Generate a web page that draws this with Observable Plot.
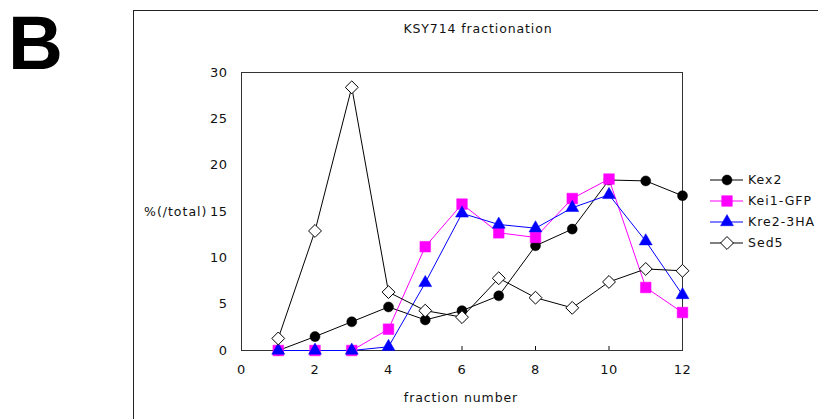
<!DOCTYPE html>
<html><head><meta charset="utf-8">
<script src="https://cdn.jsdelivr.net/npm/d3@7"></script>
<script src="https://cdn.jsdelivr.net/npm/@observablehq/plot@0.6"></script>
<style>
body{margin:0;background:#fff;}
#wrap{position:relative;width:818px;height:419px;overflow:hidden;background:#fff;font-family:"DejaVu Sans",sans-serif;color:#111;}
#wrap svg{position:absolute;left:0;top:0;}
.abs{position:absolute;white-space:nowrap;}
</style></head><body>
<div id="wrap"></div>
<script>
const fractions = [1,2,3,4,5,6,7,8,9,10,11,12];
const kex2    = [0,1.5,3.1,4.7,3.3,4.3,5.9,11.3,13.1,18.4,18.3,16.7];
const kei1GFP = [0,0,0,2.3,11.2,15.8,12.7,12.2,16.4,18.5,6.8,4.1];
const kre23HA = [0,0,0,0.4,7.3,14.8,13.6,13.2,15.4,16.8,11.8,6.0];
const sed5    = [1.3,12.9,28.4,6.3,4.3,3.6,7.8,5.7,4.6,7.4,8.8,8.6];
const seriesNames = ["Kex2","Kei1-GFP","Kre2-3HA","Sed5"];
const xTicks = [0,2,4,6,8,10,12];
const yTicks = [0,5,10,15,20,25,30];

const styles = {
  "Kex2":     {stroke:"#000", fill:"#000", symbol:"circle", r:5},
  "Kei1-GFP": {stroke:"#ff00ff", fill:"#ff00ff", symbol:"square", r:6},
  "Kre2-3HA": {stroke:"#0000ff", fill:"#0000ff", symbol:"triangle", r:4.8},
  "Sed5":     {stroke:"#000", fill:"#fff", symbol:"diamond2", r:5.8}
};
const valuesBy = {"Kex2":kex2,"Kei1-GFP":kei1GFP,"Kre2-3HA":kre23HA,"Sed5":sed5};
const data = seriesNames.flatMap(s => fractions.map((f,i)=>({series:s, x:f, y:valuesBy[s][i]})));

const marks = [Plot.frame({stroke:"#333"})];
for (const s of seriesNames) {
  const d = data.filter(p=>p.series===s);
  const st = styles[s];
  marks.push(Plot.line(d,{x:"x",y:"y",stroke:st.stroke,strokeWidth:1}));
}
for (const s of seriesNames) {
  const d = data.filter(p=>p.series===s);
  const st = styles[s];
  marks.push(Plot.dot(d,{x:"x",y:"y",symbol:()=>st.symbol,r:st.r,fill:st.fill,stroke:st.stroke,strokeWidth:st.fill==="#fff"?1:0.5}));
}

const chart = Plot.plot({
  width:818, height:419,
  marginLeft:241, marginRight:136, marginTop:72, marginBottom:69,
  style:{fontFamily:"DejaVu Sans, sans-serif", fontSize:"13px", color:"#111", background:"transparent", letterSpacing:"0.5px"},
  symbol:{type:"identity"},
  x:{domain:[0,12], ticks:xTicks, tickSize:-4, tickPadding:18, label:null},
  y:{domain:[0,30], ticks:yTicks, tickSize:0, tickPadding:14, label:null},
  marks
});
const wrap = document.getElementById("wrap");
wrap.appendChild(chart);

function add(html, css){const e=document.createElement("div");e.className="abs";e.innerHTML=html;Object.assign(e.style,css);wrap.appendChild(e);return e;}
add("", {left:"133px",top:"10px",width:"700px",height:"420px",border:"1px solid #222"});
add("B", {left:"8px",top:"0px",fontFamily:"Liberation Sans, Arial, sans-serif",fontWeight:"bold",fontSize:"76px",lineHeight:"86px",color:"#000"});
add("KSY714 fractionation", {left:"478px",top:"21px",transform:"translateX(-50%)",fontSize:"12.5px",letterSpacing:"0.9px"});
add("%(/total)", {left:"144px",top:"204px",fontSize:"12.5px",letterSpacing:"1px"});
add("fraction number", {left:"461px",top:"390px",transform:"translateX(-50%)",fontSize:"12.5px",letterSpacing:"0.9px"});

// legend
const legY = [180,201,222,243];
const legSvg = d3.create("svg").attr("width",120).attr("height",100).style("left","700px").style("top","160px");
seriesNames.forEach((s,i)=>{
  const st=styles[s]; const y=legY[i]-160;
  legSvg.append("line").attr("x1",10).attr("x2",43).attr("y1",y).attr("y2",y).attr("stroke",st.stroke).attr("stroke-width",1);
  const sym = {circle:d3.symbolCircle,square:d3.symbolSquare,triangle:d3.symbolTriangle,diamond2:d3.symbolDiamond2}[st.symbol];
  legSvg.append("path").attr("d",d3.symbol(sym, st.r*st.r*Math.PI)()).attr("transform",`translate(27,${y})`).attr("fill",st.fill).attr("stroke",st.stroke).attr("stroke-width",st.fill==="#fff"?1:0.5);
  legSvg.append("text").attr("x",48).attr("y",y).attr("dy","0.35em").attr("font-size",12.5).attr("letter-spacing","1px").attr("font-family","DejaVu Sans, sans-serif").attr("fill","#111").text(s);
});
wrap.appendChild(legSvg.node());
</script>
</body></html>
